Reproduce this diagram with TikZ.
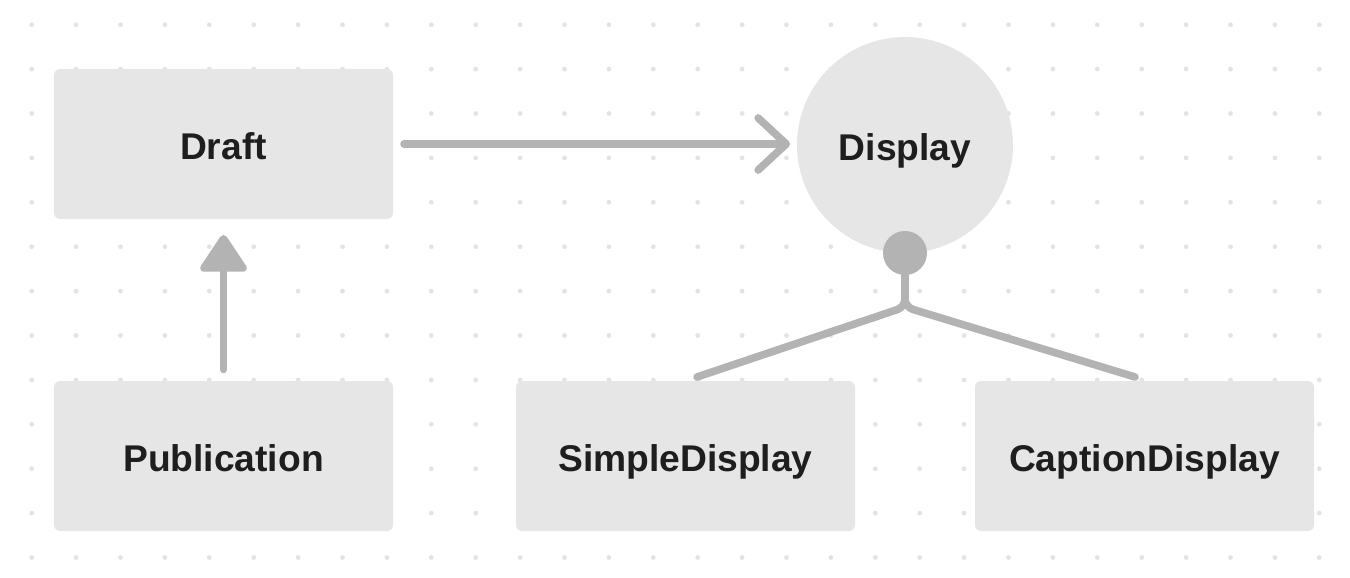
\documentclass[tikz,border=0pt]{standalone}
\usepackage{fontspec}
\setmainfont{Liberation Sans}
\usepackage{tikz}
\usetikzlibrary{positioning,arrows.meta,calc}
\definecolor{boxgray}{HTML}{E6E6E6}
\definecolor{linegray}{HTML}{B3B3B3}
\definecolor{dotgray}{HTML}{E3E3E3}
\definecolor{textdark}{HTML}{1E1E1E}

\begin{document}
\begin{tikzpicture}[x=0.5pt,y=-0.5pt,font=\fontsize{18.6}{22}\selectfont\bfseries,
   box/.style={fill=boxgray,rounded corners=3pt,minimum width=169.5pt,minimum height=75pt,outer sep=0pt,inner sep=0pt,text=textdark,text height=15.8pt,text depth=0pt},
   conn/.style={draw=linegray,line width=3.8pt,line cap=round}]
  \useasboundingbox (0,0) rectangle (1350,578);
  % background dots
  \foreach \i in {0,...,29}
    \foreach \j in {0,...,12}
      \fill[dotgray] (31.7+44.4*\i,24.7+44.4*\j) circle (1.2pt);
  \node[box] (draft) at (223.5,144) {Draft};
  \node[box,below=81pt of draft] (pub) {Publication};
  \node[box,right=61.5pt of pub] (simple) {SimpleDisplay};
  \node[box,right=60pt of simple] (caption) {CaptionDisplay};
  \node[circle,fill=boxgray,minimum size=108pt,inner sep=0pt,outer sep=0pt,text=textdark,text height=15.8pt,text depth=0pt] (display) at (905,145) {Display};
  \node[circle,fill=linegray,minimum size=22pt,inner sep=0pt] (knob) at (display.south) {};
  \draw[conn,-{Straight Barb[length=14pt,width=26pt,round]},shorten <=5.5pt,shorten >=3.5pt] (draft.east) -- (draft.east -| display.west);
  \draw[conn,-{Triangle[length=20pt,width=25.5pt,round]},shorten <=5.75pt,shorten >=8pt] (pub) -- (draft);
  \coordinate (fork) at ($(knob.center)+(0,54)$);
  \coordinate (lefttip) at ($(simple.north)+(11.5,-4)$);
  \coordinate (righttip) at ($(caption.north)+(-9.5,-4)$);
  \draw[conn,rounded corners=4pt] (knob.south) -- (fork) -- (lefttip);
  \draw[conn,rounded corners=4pt] (knob.south) -- (fork) -- (righttip);
\end{tikzpicture}
\end{document}
